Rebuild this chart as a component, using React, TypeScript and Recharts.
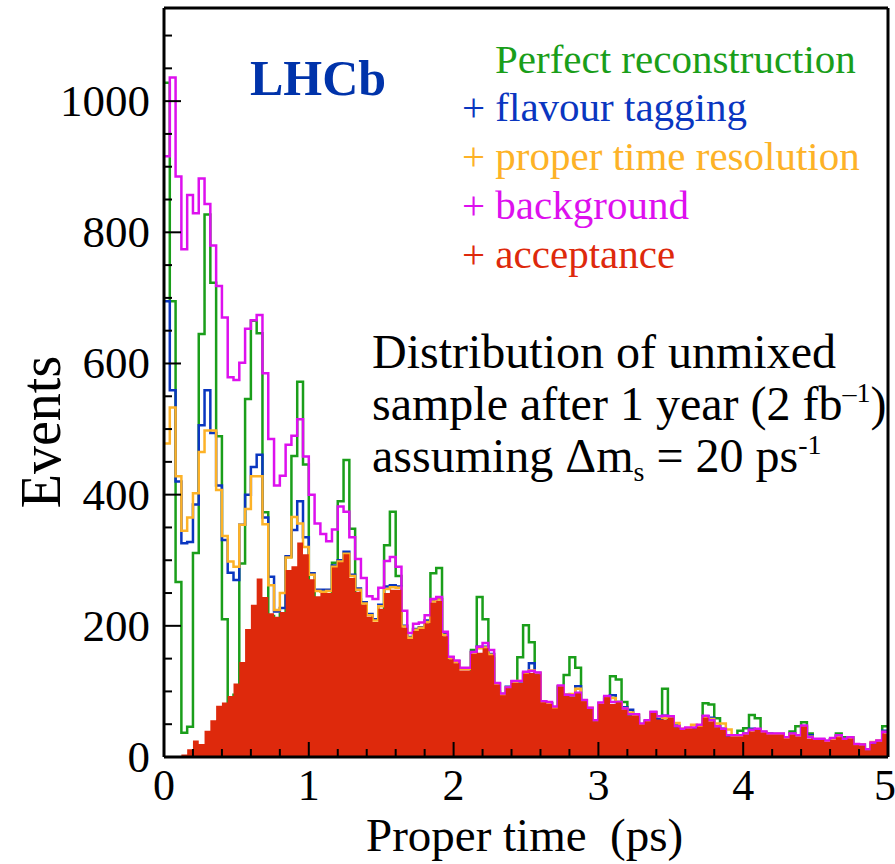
import { Area, ComposedChart, Line, ReferenceLine, XAxis, YAxis } from 'recharts';

const BIN_WIDTH = 0.04;

// bin contents, 125 bins of 0.04 ps from 0 to 5 ps
const GREEN = [
  1028, 695, 267, 37, 46, 311, 645, 827, 723, 489,
  210, 80, 95, 295, 546, 665, 646, 373, 215, 200,
  218, 305, 459, 572, 446, 250, 190, 180, 205, 296,
  390, 453, 348, 240, 200, 170, 165, 200, 323, 374,
  276, 180, 150, 160, 170, 190, 280, 288, 170, 135,
  125, 115, 125, 163, 244, 210, 150, 100, 85, 95,
  105, 152, 201, 175, 126, 75, 72, 65, 106, 125,
  152, 136, 80, 65, 48, 75, 88, 123, 118, 84,
  62, 60, 47, 52, 64, 56, 104, 58, 44, 39,
  42, 42, 45, 82, 80, 59, 40, 30, 30, 40,
  44, 64, 59, 36, 33, 33, 33, 27, 39, 47,
  53, 36, 25, 25, 22, 27, 36, 30, 30, 17,
  16, 10, 19, 24, 47,
];

const BLUE = [
  695, 559, 420, 326, 328, 385, 506, 559, 494, 414,
  331, 281, 270, 354, 400, 442, 461, 365, 275, 222,
  227, 306, 346, 390, 335, 280, 255, 255, 255, 292,
  300, 313, 278, 257, 236, 218, 210, 232, 260, 262,
  260, 200, 183, 195, 198, 208, 238, 241, 187, 152,
  146, 135, 135, 160, 168, 168, 157, 112, 96, 107,
  115, 115, 128, 143, 128, 84, 82, 75, 108, 95,
  94, 108, 86, 74, 55, 82, 92, 94, 84, 76,
  72, 64, 50, 55, 68, 58, 63, 61, 48, 42,
  44, 44, 47, 62, 60, 47, 43, 33, 32, 32,
  36, 43, 41, 38, 36, 35, 35, 29, 36, 33,
  46, 33, 27, 27, 24, 27, 32, 27, 29, 19,
  19, 11, 21, 24, 40,
];

const ORANGE = [
  478, 533, 428, 345, 365, 402, 465, 498, 498, 407,
  337, 298, 290, 354, 378, 428, 428, 355, 262, 224,
  250, 304, 366, 356, 320, 278, 253, 252, 253, 290,
  298, 310, 276, 255, 234, 216, 208, 230, 256, 259,
  258, 199, 182, 194, 197, 206, 237, 240, 186, 151,
  145, 134, 134, 159, 166, 167, 156, 111, 95, 106,
  114, 116, 127, 132, 128, 84, 82, 75, 108, 95,
  96, 104, 86, 75, 56, 82, 92, 90, 84, 74,
  68, 64, 50, 55, 68, 62, 60, 61, 52, 43,
  44, 49, 47, 61, 58, 51, 51, 42, 32, 32,
  35, 41, 41, 38, 35, 35, 35, 29, 35, 33,
  47, 31, 27, 27, 24, 27, 31, 27, 29, 19,
  19, 12, 23, 25, 38,
];

const MAGENTA = [
  916, 1036, 885, 774, 857, 829, 882, 843, 780, 718,
  670, 579, 575, 601, 653, 666, 674, 585, 485, 414,
  429, 476, 490, 515, 458, 400, 356, 340, 329, 347,
  382, 374, 335, 302, 273, 245, 241, 258, 299, 305,
  290, 223, 189, 203, 205, 216, 241, 244, 191, 153,
  147, 136, 136, 160, 168, 174, 163, 113, 97, 106,
  116, 116, 130, 131, 129, 85, 84, 77, 109, 95,
  94, 98, 87, 75, 56, 83, 93, 84, 84, 74,
  65, 65, 51, 56, 69, 62, 63, 62, 47, 43,
  45, 45, 49, 63, 56, 47, 43, 33, 33, 33,
  36, 41, 43, 39, 36, 36, 36, 30, 36, 33,
  48, 30, 28, 28, 25, 29, 33, 28, 30, 20,
  19, 12, 22, 25, 38,
];

const RED = [
  0, 0, 0, 4, 12, 25, 20, 40, 56, 78,
  83, 93, 112, 145, 195, 232, 272, 244, 219, 214,
  221, 285, 291, 327, 309, 271, 245, 250, 250, 289,
  297, 309, 273, 252, 232, 214, 206, 226, 250, 255,
  255, 197, 180, 192, 195, 204, 235, 238, 184, 149,
  143, 132, 132, 157, 159, 166, 155, 110, 94, 105,
  113, 113, 127, 128, 126, 83, 81, 74, 107, 93,
  92, 97, 85, 73, 54, 81, 91, 81, 83, 72,
  63, 63, 49, 54, 67, 57, 57, 60, 45, 41,
  43, 43, 46, 60, 54, 45, 41, 31, 31, 31,
  34, 39, 41, 37, 34, 34, 34, 28, 34, 31,
  46, 28, 26, 26, 23, 26, 30, 26, 28, 18,
  17, 10, 20, 23, 36,
];

const X_TICKS = [
  0, 0.2, 0.4, 0.6, 0.8, 1, 1.2, 1.4, 1.6, 1.8, 2, 2.2, 2.4, 2.6, 2.8,
  3, 3.2, 3.4, 3.6, 3.8, 4, 4.2, 4.4, 4.6, 4.8, 5,
];
const Y_TICKS = [
  0, 50, 100, 150, 200, 250, 300, 350, 400, 450, 500, 550, 600, 650,
  700, 750, 800, 850, 900, 950, 1000, 1050, 1100,
];
const Y_MAX = 1142;

const SERIF = '"Liberation Serif", "Times New Roman", serif';
const W = 895;
const H = 864;

// last point repeated at t = 5 so the final step closes
const data = RED.map((_, i) => ({
  t: +(i * BIN_WIDTH).toFixed(2),
  green: GREEN[i],
  blue: BLUE[i],
  orange: ORANGE[i],
  magenta: MAGENTA[i],
  red: RED[i],
}));
data.push({ ...data[data.length - 1], t: 5 });

const XTick = ({ x, y, payload }: any) => {
  const v = payload.value;
  const major = Math.abs(v - Math.round(v)) < 1e-6;
  const last = v === 5;
  return (
    <g>
      <line x1={x} x2={x} y1={y} y2={y - (major ? 15 : 8)} stroke="#000" strokeWidth={2} />
      {major && (
        <text
          x={last ? x + 8 : x}
          y={y + 43}
          textAnchor={last ? 'end' : 'middle'}
          fontFamily={SERIF}
          fontSize={44}
          fill="#000"
        >
          {v}
        </text>
      )}
    </g>
  );
};

const YTick = ({ x, y, payload }: any) => {
  const v = payload.value;
  const major = v % 200 === 0;
  return (
    <g>
      <line x1={x} x2={x + (major ? 17 : 8)} y1={y} y2={y} stroke="#000" strokeWidth={2} />
      {major && (
        <text x={x - 14} y={y + 15} textAnchor="end" fontFamily={SERIF} fontSize={45} fill="#000">
          {v}
        </text>
      )}
    </g>
  );
};

export default function App() {
  return (
    <div style={{ position: 'absolute', left: 0, top: 0, width: W, height: H, background: '#fff' }}>
      {/* outline histograms */}
      <ComposedChart width={W} height={H} data={data} margin={{ top: 8, right: 7, bottom: 107, left: 164 }}>
        <XAxis dataKey="t" type="number" domain={[0, 5]} hide allowDataOverflow />
        <YAxis type="number" domain={[0, Y_MAX]} hide allowDataOverflow />
        <Line type="stepAfter" dataKey="green" stroke="#1a9e1a" strokeWidth={2.5} dot={false} activeDot={false} isAnimationActive={false} />
        <Line type="stepAfter" dataKey="blue" stroke="#0a36c0" strokeWidth={2.5} dot={false} activeDot={false} isAnimationActive={false} />
        <Line type="stepAfter" dataKey="orange" stroke="#fdb227" strokeWidth={2.5} dot={false} activeDot={false} isAnimationActive={false} />
        <Line type="stepAfter" dataKey="magenta" stroke="#dd10ee" strokeWidth={2.5} dot={false} activeDot={false} isAnimationActive={false} />
      </ComposedChart>

      {/* filled histogram drawn over the outlines, plus axes and frame */}
      <div style={{ position: 'absolute', left: 0, top: 0 }}>
        <ComposedChart width={W} height={H} data={data} margin={{ top: 8, right: 7, bottom: 0, left: 0 }}>
          <XAxis
            dataKey="t"
            type="number"
            domain={[0, 5]}
            ticks={X_TICKS}
            interval={0}
            height={107}
            tickSize={0}
            tickMargin={0}
            tickLine={false}
            tick={(p: any) => <XTick {...p} />}
            axisLine={{ stroke: '#000', strokeWidth: 3 }}
            allowDataOverflow
          />
          <YAxis
            type="number"
            domain={[0, Y_MAX]}
            ticks={Y_TICKS}
            interval={0}
            width={164}
            tickSize={0}
            tickMargin={0}
            tickLine={false}
            tick={(p: any) => <YTick {...p} />}
            axisLine={{ stroke: '#000', strokeWidth: 3 }}
            allowDataOverflow
          />
          <Area type="stepAfter" dataKey="red" stroke="none" fill="#de290c" fillOpacity={1} dot={false} activeDot={false} isAnimationActive={false} />
          <ReferenceLine y={Y_MAX} stroke="#000" strokeWidth={3} />
          <ReferenceLine x={5} stroke="#000" strokeWidth={3} />
        </ComposedChart>
      </div>

      <svg width={W} height={H} style={{ position: 'absolute', left: 0, top: 0, pointerEvents: 'none' }}>
        <text x={250} y={95} fontFamily={SERIF} fontWeight="bold" fontSize={50} fill="#0033aa">LHCb</text>
        <g fontFamily={SERIF} fontSize={41}>
          <text x={495} y={73} fill="#1a9e1a">Perfect reconstruction</text>
          <text x={462} y={121} fill="#0a36c0">+ flavour tagging</text>
          <text x={462} y={170} fill="#fdb227">+ proper time resolution</text>
          <text x={462} y={219} fill="#dd10ee">+ background</text>
          <text x={462} y={268} fill="#de290c">+ acceptance</text>
        </g>
        <g fontFamily={SERIF} fontSize={48} fill="#000">
          <text x={372} y={368}>Distribution of unmixed</text>
          <text x={372} y={420}>
            sample after 1 year (2 fb
            <tspan dy={-18} fontSize={28}>–1</tspan>
            <tspan dy={18}>)</tspan>
          </text>
          <text x={372} y={472}>
            assuming Δm
            <tspan dy={9} fontSize={28}>s</tspan>
            <tspan dy={-9}> = 20 ps</tspan>
            <tspan dy={-18} fontSize={28}>-1</tspan>
          </text>
        </g>
        <text x={366} y={851} fontFamily={SERIF} fontSize={47} fill="#000" style={{ whiteSpace: 'pre' }}>
          Proper time  (ps)
        </text>
        <text transform="translate(60, 432) rotate(-90)" textAnchor="middle" fontFamily={SERIF} fontSize={56} fill="#000">
          Events
        </text>
      </svg>
    </div>
  );
}
